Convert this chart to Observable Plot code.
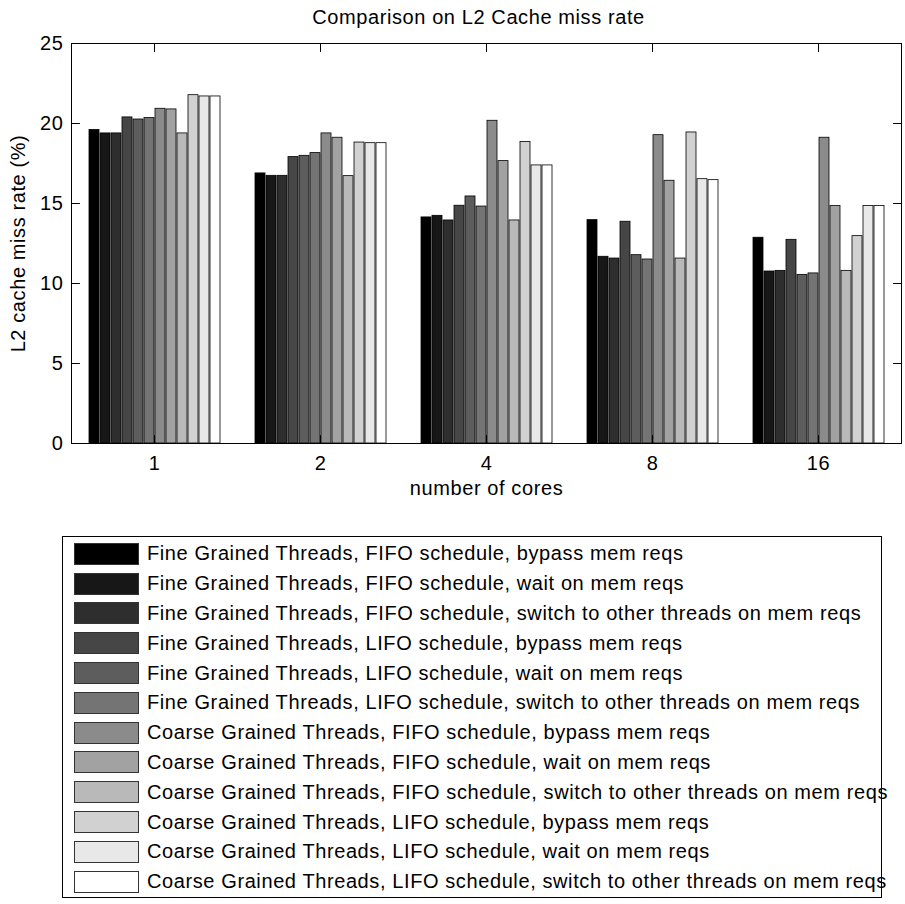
<!DOCTYPE html>
<html><head><meta charset="utf-8">
<script src="https://cdn.jsdelivr.net/npm/d3@7"></script>
<script src="https://cdn.jsdelivr.net/npm/@observablehq/plot@0.6"></script>
<style>
body{margin:0;background:#fff;font-family:"Liberation Sans",Arial,Helvetica,sans-serif;}
#chart svg{display:block;}
#legend{margin-left:62px;margin-top:21px;width:820px;height:362px;border:1px solid #000;box-sizing:border-box;padding-top:2px;}
.row{display:flex;align-items:center;height:29.8px;}
.sw{width:65px;height:22px;box-sizing:border-box;border:1px solid #333;margin-left:11px;margin-right:8px;flex:none;}
.lab{font-size:20px;letter-spacing:0.6px;white-space:nowrap;color:#000;}
</style></head><body>
<div id="chart"></div><div id="legend"></div>
<script>
const cores = [1, 2, 4, 8, 16];
const seriesNames = [
  "Fine Grained Threads, FIFO schedule, bypass mem reqs",
  "Fine Grained Threads, FIFO schedule, wait on mem reqs",
  "Fine Grained Threads, FIFO schedule, switch to other threads on mem reqs",
  "Fine Grained Threads, LIFO schedule, bypass mem reqs",
  "Fine Grained Threads, LIFO schedule, wait on mem reqs",
  "Fine Grained Threads, LIFO schedule, switch to other threads on mem reqs",
  "Coarse Grained Threads, FIFO schedule, bypass mem reqs",
  "Coarse Grained Threads, FIFO schedule, wait on mem reqs",
  "Coarse Grained Threads, FIFO schedule, switch to other threads on mem reqs",
  "Coarse Grained Threads, LIFO schedule, bypass mem reqs",
  "Coarse Grained Threads, LIFO schedule, wait on mem reqs",
  "Coarse Grained Threads, LIFO schedule, switch to other threads on mem reqs"
];
const fgFifoBypass = [19.59, 16.88, 14.13, 13.96, 12.86];
const fgFifoWait   = [19.38, 16.73, 14.23, 11.67, 10.75];
const fgFifoSwitch = [19.38, 16.73, 13.94, 11.56, 10.79];
const fgLifoBypass = [20.38, 17.90, 14.86, 13.86, 12.73];
const fgLifoWait   = [20.25, 17.98, 15.44, 11.77, 10.54];
const fgLifoSwitch = [20.34, 18.15, 14.81, 11.50, 10.63];
const cgFifoBypass = [20.92, 19.38, 20.17, 19.27, 19.11];
const cgFifoWait   = [20.88, 19.11, 17.65, 16.42, 14.84];
const cgFifoSwitch = [19.38, 16.71, 13.94, 11.56, 10.79];
const cgLifoBypass = [21.77, 18.81, 18.84, 19.44, 12.96];
const cgLifoWait   = [21.69, 18.77, 17.38, 16.52, 14.84];
const cgLifoSwitch = [21.69, 18.77, 17.38, 16.46, 14.84];
const seriesValues = [fgFifoBypass, fgFifoWait, fgFifoSwitch, fgLifoBypass, fgLifoWait, fgLifoSwitch,
  cgFifoBypass, cgFifoWait, cgFifoSwitch, cgLifoBypass, cgLifoWait, cgLifoSwitch];
const yTicks = [0, 5, 10, 15, 20, 25];
const yLimits = [0, 25];
const title = "Comparison on L2 Cache miss rate";
const xLabel = "number of cores";
const yLabel = "L2 cache miss rate (%)";

const grays = seriesNames.map((_, i) => { const v = Math.round(255 * i / 11); return d3.rgb(v, v, v).formatHex(); });

const rows = [];
seriesNames.forEach((s, j) => cores.forEach((c, i) => rows.push({core: c, series: s, value: seriesValues[j][i]})));
const coreRows = cores.map((c) => ({core: c}));

// inward tick shape (a plain line segment) for Plot.vector
const tickLine = {draw(context, l) { context.moveTo(0, 0); context.lineTo(0, -l); }};
const tickOpts = {length: 8, anchor: "start", shape: tickLine, stroke: "#000", strokeWidth: 1};

const font = '"Liberation Sans", Arial, Helvetica, sans-serif';
const plot = Plot.plot({
  width: 905, height: 515,
  marginTop: 43, marginBottom: 72, marginLeft: 71, marginRight: 4,
  style: {fontFamily: font, fontSize: "20px", color: "#000", background: "#fff", overflow: "visible", letterSpacing: "0.6px"},
  fx: {domain: cores, paddingInner: 0, paddingOuter: 0, label: null},
  x: {domain: seriesNames, paddingInner: 0.1, paddingOuter: 1.55, axis: null},
  y: {domain: yLimits, label: null},
  color: {domain: seriesNames, range: grays},
  marks: [
    Plot.barY(rows, {fx: "core", x: "series", y: "value", fill: "series", stroke: "#000", strokeWidth: 0.8}),
    Plot.ruleY(yLimits, {stroke: "#000", strokeWidth: 1}),
    Plot.frame({anchor: "left", facetAnchor: "left", stroke: "#000"}),
    Plot.frame({anchor: "right", facetAnchor: "right", stroke: "#000"}),
    Plot.vector(yTicks, {y: (d) => d, frameAnchor: "left", facetAnchor: "left", rotate: 90, ...tickOpts}),
    Plot.vector(yTicks, {y: (d) => d, frameAnchor: "right", facetAnchor: "right", rotate: -90, ...tickOpts}),
    Plot.vector(coreRows, {fx: "core", frameAnchor: "top", rotate: 180, ...tickOpts}),
    Plot.vector(coreRows, {fx: "core", frameAnchor: "bottom", rotate: 0, ...tickOpts}),
    Plot.axisY({anchor: "left", ticks: yTicks, tickSize: 0, tickPadding: 8, fontSize: 20, label: null}),
    Plot.axisFx({anchor: "bottom", tickSize: 0, tickPadding: 12, fontSize: 20, label: null}),
    Plot.text([{c: 4, t: title}], {fx: "c", text: "t", frameAnchor: "top", lineAnchor: "top", dy: -34, dx: -8, fontSize: 20}),
    Plot.text([{c: 4, t: xLabel}], {fx: "c", text: "t", frameAnchor: "bottom", lineAnchor: "top", dy: 37, fontSize: 20}),
    Plot.text([{c: 1, t: yLabel}], {fx: "c", text: "t", frameAnchor: "left", textAnchor: "middle", rotate: -90, dx: -53, fontSize: 20})
  ]
});
document.getElementById("chart").appendChild(plot);

const legend = d3.select("#legend");
seriesNames.forEach((s, i) => {
  const r = legend.append("div").attr("class", "row");
  r.append("div").attr("class", "sw").style("background", grays[i]);
  r.append("div").attr("class", "lab").text(s);
});
</script>
</body></html>
